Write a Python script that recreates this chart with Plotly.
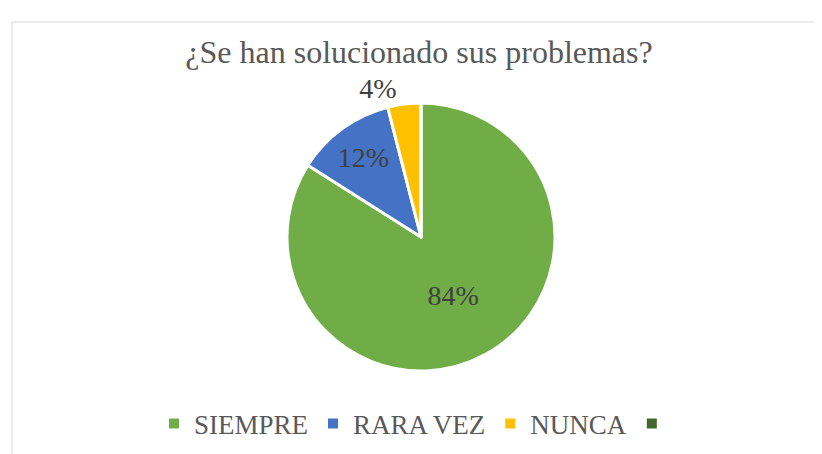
import plotly.graph_objects as go

categories = ["SIEMPRE", "RARA VEZ", "NUNCA", " "]
values = [84, 12, 4, 0]
text_labels = ["84%", "12%", "4%", ""]
colors = ["#70AD47", "#4472C4", "#FFC000", "#43682B"]

W, H = 822, 454
SERIF = "Liberation Serif, Times New Roman, serif"

fig = go.Figure(go.Pie(
    labels=categories,
    values=values,
    text=text_labels,
    textinfo="text",
    sort=False,
    direction="clockwise",
    rotation=0,
    marker=dict(colors=colors, line=dict(color="white", width=3)),
    textposition=["inside", "inside", "outside", "none"],
    insidetextorientation="horizontal",
    textfont=dict(family=SERIF, size=28, color="#404040"),
    outsidetextfont=dict(family=SERIF, size=28, color="#404040"),
    domain=dict(x=[279 / W, 547 / W], y=[1 - 363 / H, 1 - 95 / H]),
    hoverinfo="label+percent",
))

fig.update_layout(
    width=W, height=H,
    margin=dict(l=0, r=0, t=0, b=0),
    paper_bgcolor="white",
    title=dict(text="¿Se han solucionado sus problemas?", x=0.5, xanchor="center",
               y=1 - 44 / H, yanchor="middle",
               font=dict(family=SERIF, size=32, color="#595959")),
    legend=dict(orientation="h", x=0.5, xanchor="center", y=1 - 416 / H, yanchor="middle",
                font=dict(family=SERIF, size=27, color="#595959"),
                itemsizing="constant"),
    shapes=[
        dict(type="line", xref="paper", yref="paper", x0=4 / W, x1=1, y0=1 - 14 / H, y1=1 - 14 / H,
             line=dict(color="#D9D9D9", width=1)),
        dict(type="line", xref="paper", yref="paper", x0=4 / W, x1=4 / W, y0=0, y1=1 - 14 / H,
             line=dict(color="#D9D9D9", width=1)),
    ],
)

fig.write_html("out.html")
